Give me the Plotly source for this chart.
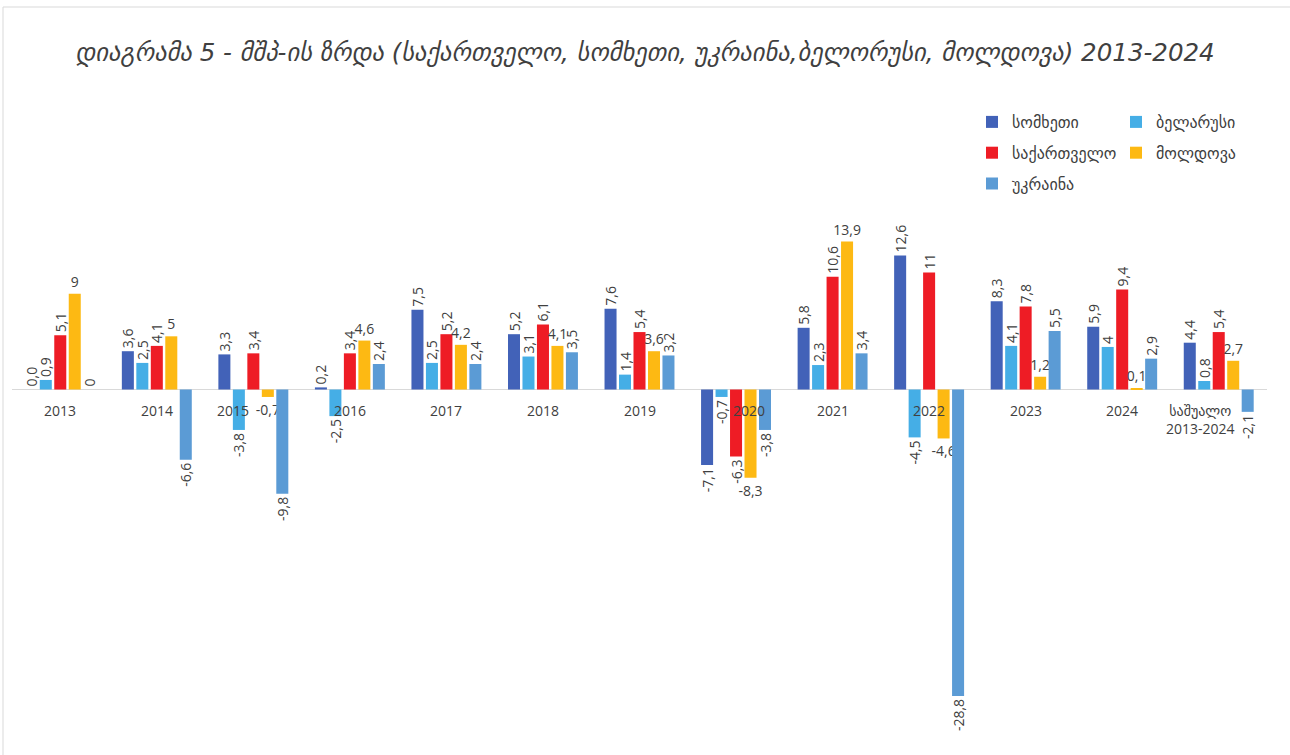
import plotly.graph_objects as go

# ---------------- data ----------------
categories = ["2013", "2014", "2015", "2016", "2017", "2018", "2019",
              "2020", "2021", "2022", "2023", "2024", "საშუალო 2013-2024"]

armenia = [0.0, 3.6, 3.3, 0.2, 7.5, 5.2, 7.6, -7.1, 5.8, 12.6, 8.3, 5.9, 4.4]
belarus = [0.9, 2.5, -3.8, -2.5, 2.5, 3.1, 1.4, -0.7, 2.3, -4.5, 4.1, 4.0, 0.8]
georgia = [5.1, 4.1, 3.4, 3.4, 5.2, 6.1, 5.4, -6.3, 10.6, 11.0, 7.8, 9.4, 5.4]
moldova = [9.0, 5.0, -0.7, 4.6, 4.2, 4.1, 3.6, -8.3, 13.9, -4.6, 1.2, 0.1, 2.7]
ukraine = [0.0, -6.6, -9.8, 2.4, 2.4, 3.5, 3.2, -3.8, 3.4, -28.8, 5.5, 2.9, -2.1]

series_names = ["სომხეთი", "ბელარუსი", "საქართველო", "მოლდოვა", "უკრაინა"]
series_values = [armenia, belarus, georgia, moldova, ukraine]

title_text = "დიაგრამა 5 - მშპ-ის ზრდა (საქართველო, სომხეთი, უკრაინა,ბელორუსი, მოლდოვა) 2013-2024"

# ---------------- style ----------------
colors = ["#4262B8", "#45AEE6", "#EE1C25", "#FDB913", "#5B9BD5"]
legend_of = ["legend", "legend2", "legend", "legend2", "legend"]
text_angle = [-90, -90, -90, 0, -90]
label_overrides = {(0, 0): "0,0"}
cat_label_xshift = {"2015": -20, "2020": 13, "საშუალო 2013-2024": -18}

TXT = "#404040"
FONT = "Open Sans, DejaVu Sans, sans-serif"
GEO_FONT = "DejaVu Sans, Open Sans, sans-serif"


def fmt(v):
    s = f"{v:.1f}"
    if s.endswith(".0"):
        s = s[:-2]
    if s == "-0":
        s = "0"
    return s.replace(".", ",")


fig = go.Figure()
for i, (name, vals) in enumerate(zip(series_names, series_values)):
    labels = [label_overrides.get((i, j), fmt(v)) for j, v in enumerate(vals)]
    fig.add_trace(go.Bar(
        x=categories, y=vals, name=name,
        marker=dict(color=colors[i], line=dict(width=0)),
        text=labels, textposition="outside", textangle=text_angle[i],
        textfont=dict(family=FONT, size=14, color=TXT),
        constraintext="none", cliponaxis=False,
        legend=legend_of[i], legendgroup=name,
        hoverinfo="x+y+name",
    ))

# category labels sitting just under the zero line (x given as category index)
annotations = []
for j, c in enumerate(categories):
    annotations.append(dict(
        x=j, y=0, xref="x", yref="y",
        text=c.replace(" ", "<br>"),
        showarrow=False, yanchor="top", xanchor="center",
        yshift=-9, xshift=cat_label_xshift.get(c, 0),
        font=dict(family=FONT, size=14, color=TXT),
    ))

W, H = 1290, 755
ML, MR, MT, MB = 12, 23, 130, 30
plot_h = H - MT - MB
plot_w = W - ML - MR


def px_x(px):
    return (px - ML) / plot_w


def px_y(py):
    return (H - MB - py) / plot_h


legend_common = dict(
    orientation="v", xref="container", yref="container",
    yanchor="top", xanchor="left",
    font=dict(family=GEO_FONT, size=16, color=TXT),
    tracegroupgap=7, itemwidth=30, bgcolor="rgba(0,0,0,0)",
    traceorder="grouped",
)

fig.update_layout(
    width=W, height=H,
    margin=dict(l=ML, r=MR, t=MT, b=MB, pad=0, autoexpand=False),
    paper_bgcolor="white", plot_bgcolor="white",
    barmode="group", bargap=0.25, bargroupgap=0.17,
    title=dict(
        text=title_text, x=0.5, xref="container", xanchor="center",
        y=1 - 52 / H, yref="container", yanchor="middle",
        font=dict(family=GEO_FONT, size=24.5, color=TXT, style="italic"),
    ),
    xaxis=dict(type="category", range=[-0.5, len(categories) - 0.5],
               showticklabels=False, showgrid=False,
               zeroline=False, showline=False, ticks="", fixedrange=True),
    yaxis=dict(range=[-31.53, 24.39], showticklabels=False, showgrid=False,
               zeroline=True, zerolinecolor="#d9d9d9", zerolinewidth=1,
               showline=False, ticks="", fixedrange=True),
    legend=dict(legend_common, x=972 / W, y=1 - 105 / H),
    legend2=dict(legend_common, x=1116 / W, y=1 - 105 / H),
    annotations=annotations,
    shapes=[dict(
        type="rect", xref="paper", yref="paper",
        x0=px_x(3), x1=px_x(1300), y0=px_y(770), y1=px_y(7),
        line=dict(color="#d9d9d9", width=1), fillcolor="rgba(0,0,0,0)",
        layer="below",
    )],
    showlegend=True,
)

fig.write_html("out.html", config={"displayModeBar": False},
               post_script="document.body.style.margin='0';")
